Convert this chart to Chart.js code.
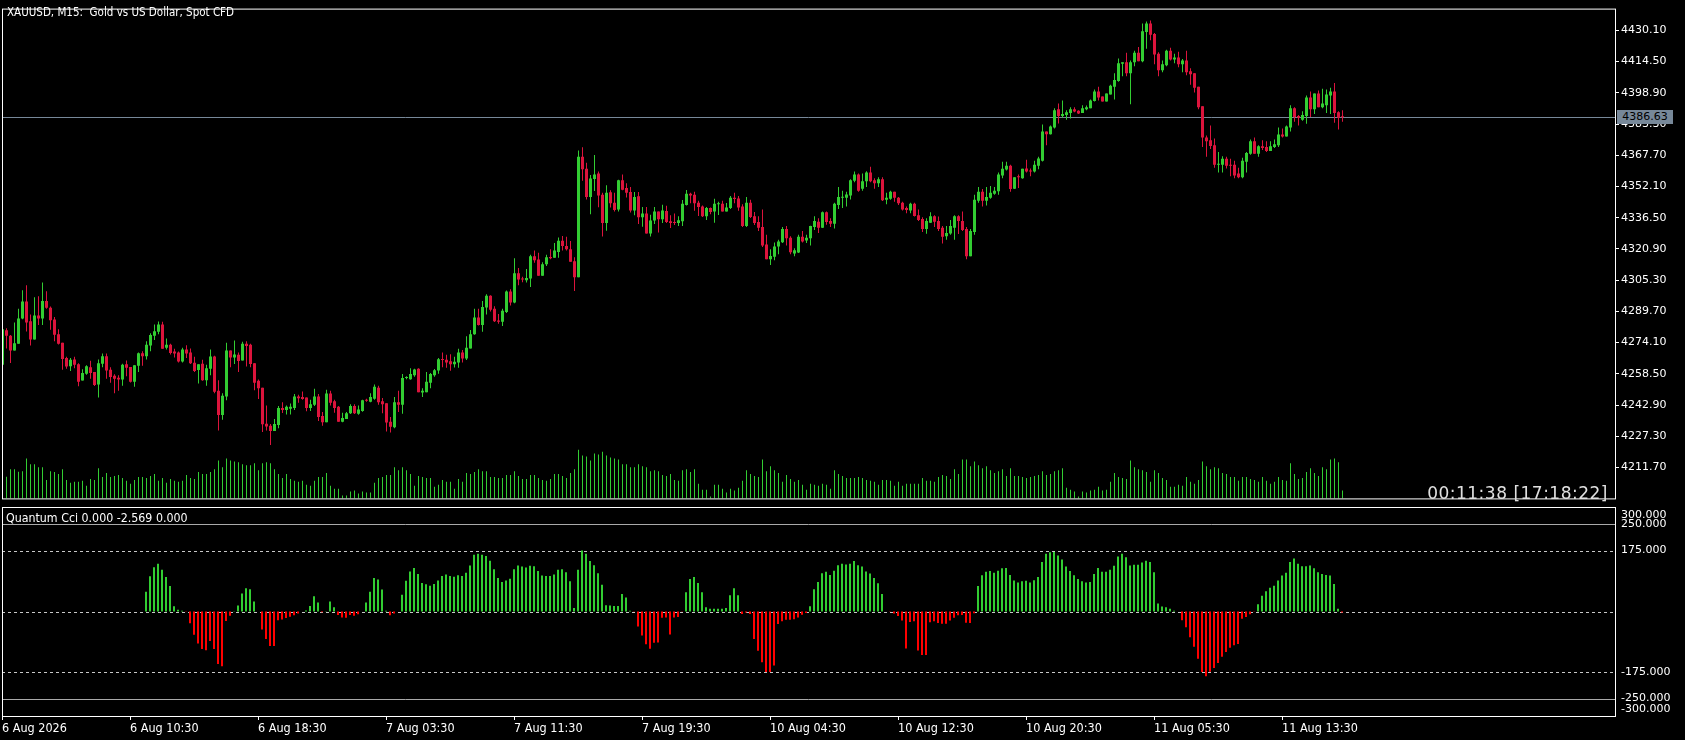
<!DOCTYPE html>
<html>
<head>
<meta charset="utf-8">
<title>XAUUSD M15</title>
<script src="https://cdn.jsdelivr.net/npm/chart.js@4/dist/chart.umd.min.js"></script>
<style>
  html, body { margin: 0; padding: 0; background: #000; overflow: hidden; }
  #wrap { position: relative; width: 1685px; height: 740px; background: #000; }
  #wrap canvas { position: absolute; left: 0; }
  .txt { position: absolute; white-space: pre; color: #fff; font-family: "DejaVu Sans Condensed", "DejaVu Sans", sans-serif; font-size: 11.5px; line-height: 13px; }
  #cciLabel { font-size: 12.3px; }
  #timer { font-family: "DejaVu Sans", sans-serif; font-size: 17px; line-height: 20px; letter-spacing: 0.5px; color: #e0e0e0; }
  #priceBox { font-family: "DejaVu Sans", sans-serif; font-size: 11px; background: #778899; color: #000; text-align: center; width: 56px; height: 14px; line-height: 14px; }
</style>
</head>
<body>
<div id="wrap">
  <canvas id="mainChart" width="1685" height="507" style="top:0;width:1685px;height:507px"></canvas>
  <canvas id="cciChart" width="1685" height="233" style="top:507px;width:1685px;height:233px"></canvas>
  <div class="txt" id="title" style="left:7px;top:6px">XAUUSD, M15:  Gold vs US Dollar, Spot CFD</div>
  <div class="txt" id="timer" style="right:77px;top:483px">00:11:38 [17:18:22]</div>
  <div class="txt" id="cciLabel" style="left:6px;top:512px">Quantum Cci 0.000 -2.569 0.000</div>
  <div class="txt" id="priceBox" style="left:1617px;top:0">4386.63</div>
</div>

<script>
// ---- data (M15 bars, oldest first) ----

var openPrices = [
  4263.0, 4280.3, 4277.5, 4270.2, 4273.5, 4286.1, 4294.6, 4284.8, 4275.6, 4287.6,
  4286.1, 4294.9, 4291.5, 4285.6, 4278.3, 4274.0, 4266.4, 4262.3, 4265.7, 4263.3,
  4255.2, 4258.6, 4261.8, 4259.4, 4253.2, 4263.5, 4267.3, 4260.5, 4257.6, 4256.6,
  4255.7, 4263.3, 4261.9, 4254.5, 4262.5, 4268.8, 4267.3, 4272.7, 4277.5, 4279.5,
  4283.2, 4271.5, 4273.0, 4269.6, 4269.1, 4264.7, 4270.6, 4269.1, 4264.1, 4260.4,
  4263.6, 4255.3, 4261.0, 4267.2, 4250.1, 4238.0, 4247.2, 4270.1, 4266.7, 4268.0,
  4265.2, 4273.5, 4273.0, 4263.8, 4255.0, 4251.6, 4233.6, 4232.6, 4229.9, 4233.0,
  4241.4, 4240.4, 4241.1, 4241.4, 4247.2, 4246.9, 4246.7, 4241.4, 4243.0, 4247.2,
  4237.5, 4234.3, 4248.7, 4244.8, 4242.0, 4234.6, 4236.0, 4238.8, 4242.4, 4238.6,
  4239.9, 4245.3, 4244.6, 4246.1, 4251.6, 4244.8, 4243.8, 4234.6, 4231.8, 4244.3,
  4243.0, 4256.4, 4255.8, 4257.8, 4261.0, 4249.2, 4249.3, 4254.0, 4257.8, 4260.2,
  4265.8, 4265.5, 4264.8, 4263.3, 4264.2, 4269.1, 4266.2, 4271.2, 4278.3, 4286.6,
  4282.9, 4291.6, 4297.5, 4291.0, 4285.2, 4284.5, 4289.4, 4299.6, 4294.2, 4308.8,
  4306.1, 4305.3, 4306.1, 4317.2, 4315.6, 4307.5, 4313.2, 4316.9, 4316.5, 4319.4,
  4325.0, 4322.4, 4320.7, 4314.8, 4306.7, 4366.9, 4361.0, 4346.9, 4355.8, 4358.6,
  4348.0, 4333.9, 4349.2, 4344.0, 4340.6, 4355.2, 4351.3, 4349.3, 4340.1, 4347.2,
  4336.7, 4338.6, 4328.6, 4335.1, 4339.6, 4335.7, 4339.9, 4334.7, 4334.4, 4333.9,
  4334.7, 4342.9, 4348.4, 4347.9, 4344.0, 4342.1, 4337.2, 4341.3, 4339.6, 4343.2,
  4343.5, 4339.6, 4341.3, 4346.5, 4346.1, 4342.1, 4332.3, 4344.0, 4337.2, 4334.3,
  4331.9, 4323.1, 4315.8, 4317.0, 4322.1, 4324.2, 4330.9, 4326.5, 4318.6, 4319.1,
  4327.0, 4325.1, 4326.2, 4331.9, 4334.5, 4331.5, 4339.2, 4334.8, 4333.5, 4342.9,
  4346.5, 4346.5, 4347.6, 4354.9, 4358.1, 4351.0, 4354.7, 4359.1, 4355.2, 4353.7,
  4355.7, 4345.5, 4346.0, 4349.4, 4346.5, 4344.0, 4341.3, 4340.1, 4343.5, 4337.7,
  4335.8, 4330.9, 4334.0, 4337.2, 4334.8, 4331.5, 4327.2, 4328.6, 4331.5, 4337.2,
  4334.8, 4330.9, 4317.3, 4329.4, 4345.0, 4349.4, 4345.0, 4346.5, 4348.4, 4349.7,
  4357.6, 4360.6, 4362.5, 4351.0, 4357.1, 4356.2, 4361.1, 4360.1, 4359.6, 4362.5,
  4365.0, 4379.5, 4378.2, 4381.5, 4390.7, 4387.3, 4387.8, 4388.8, 4390.7, 4389.9,
  4388.8, 4390.7, 4391.2, 4394.8, 4399.5, 4397.1, 4394.6, 4398.0, 4401.9, 4404.8,
  4413.4, 4414.1, 4408.7, 4414.1, 4418.9, 4414.6, 4429.2, 4433.5, 4428.2, 4418.4,
  4410.2, 4412.6, 4419.9, 4415.5, 4416.5, 4413.1, 4415.0, 4409.7, 4408.7, 4401.9,
  4392.2, 4376.6, 4375.2, 4372.7, 4363.0, 4363.0, 4365.9, 4363.0, 4363.0, 4358.6,
  4356.7, 4364.5, 4368.4, 4374.7, 4368.5, 4372.2, 4371.8, 4369.8, 4371.8, 4372.7,
  4378.1, 4377.1, 4381.5, 4391.2, 4387.3, 4385.4, 4387.3, 4396.6, 4390.7, 4398.5,
  4391.7, 4392.7, 4397.5, 4399.5, 4389.2, 4386.8
];

var highPrices = [
  4281.5, 4281.3, 4277.9, 4284.2, 4291.0, 4300.2, 4302.7, 4288.1, 4296.8, 4297.2,
  4304.1, 4299.7, 4292.1, 4286.9, 4280.8, 4274.0, 4267.0, 4266.4, 4267.0, 4263.8,
  4260.8, 4262.8, 4265.1, 4259.4, 4265.7, 4268.6, 4268.6, 4261.8, 4258.3, 4257.8,
  4263.5, 4265.2, 4261.9, 4262.8, 4269.1, 4269.8, 4274.8, 4278.8, 4283.2, 4284.7,
  4284.5, 4276.1, 4273.5, 4271.0, 4269.6, 4271.5, 4272.8, 4271.2, 4267.0, 4263.3,
  4265.5, 4263.0, 4270.6, 4267.5, 4255.3, 4248.8, 4274.0, 4270.1, 4275.1, 4269.1,
  4274.5, 4274.8, 4273.5, 4263.8, 4255.7, 4251.6, 4242.7, 4233.5, 4235.9, 4242.4,
  4244.3, 4242.7, 4243.7, 4248.4, 4248.0, 4249.7, 4246.7, 4245.6, 4251.1, 4248.4,
  4239.4, 4250.6, 4250.1, 4245.6, 4242.4, 4239.1, 4239.5, 4243.3, 4243.3, 4242.7,
  4245.6, 4246.0, 4248.8, 4253.2, 4252.5, 4246.4, 4243.8, 4237.0, 4246.9, 4250.1,
  4258.4, 4257.3, 4261.3, 4261.0, 4261.3, 4251.3, 4259.4, 4258.9, 4260.9, 4266.4,
  4269.1, 4268.0, 4268.3, 4267.0, 4271.0, 4270.4, 4277.3, 4280.4, 4291.0, 4291.0,
  4294.9, 4298.3, 4297.8, 4292.3, 4288.4, 4291.0, 4300.1, 4300.7, 4316.3, 4311.4,
  4307.0, 4310.9, 4318.0, 4320.1, 4319.0, 4314.2, 4318.0, 4320.7, 4323.9, 4326.6,
  4327.3, 4327.0, 4324.9, 4316.7, 4370.1, 4371.7, 4363.9, 4357.8, 4367.8, 4359.6,
  4349.0, 4352.7, 4350.2, 4348.9, 4355.5, 4358.1, 4353.7, 4351.8, 4349.3, 4349.3,
  4341.9, 4341.9, 4338.0, 4341.9, 4339.6, 4343.0, 4342.5, 4337.7, 4338.6, 4337.2,
  4345.3, 4350.3, 4348.9, 4349.4, 4345.0, 4342.6, 4341.9, 4341.6, 4346.0, 4344.5,
  4345.0, 4343.9, 4347.4, 4348.9, 4347.4, 4343.2, 4346.9, 4345.5, 4339.3, 4337.2,
  4340.6, 4328.0, 4320.7, 4324.1, 4325.5, 4331.9, 4332.3, 4327.2, 4321.2, 4328.0,
  4329.9, 4328.0, 4332.5, 4337.2, 4336.2, 4339.6, 4339.6, 4336.2, 4344.0, 4351.8,
  4349.9, 4349.4, 4355.7, 4359.6, 4358.6, 4358.6, 4359.7, 4362.0, 4356.2, 4356.7,
  4356.7, 4348.9, 4350.0, 4349.4, 4346.9, 4344.5, 4342.1, 4344.0, 4344.0, 4340.6,
  4336.7, 4336.2, 4339.2, 4337.7, 4337.1, 4332.3, 4332.3, 4335.3, 4337.7, 4337.7,
  4339.6, 4331.9, 4330.9, 4347.9, 4351.8, 4350.8, 4351.8, 4352.3, 4351.8, 4359.1,
  4364.4, 4364.4, 4363.0, 4356.7, 4358.1, 4361.0, 4365.4, 4361.1, 4365.0, 4366.9,
  4383.0, 4379.5, 4382.5, 4391.2, 4393.6, 4395.1, 4390.2, 4391.7, 4391.7, 4390.2,
  4392.7, 4392.5, 4395.6, 4400.5, 4401.9, 4397.1, 4398.5, 4402.9, 4408.7, 4416.0,
  4414.1, 4418.9, 4415.0, 4419.9, 4421.8, 4433.5, 4434.5, 4435.0, 4428.7, 4419.1,
  4415.0, 4420.4, 4421.4, 4418.4, 4419.4, 4415.8, 4419.9, 4411.1, 4408.7, 4401.9,
  4392.2, 4377.6, 4382.5, 4376.1, 4369.3, 4367.2, 4366.9, 4365.9, 4365.0, 4361.5,
  4366.4, 4369.3, 4375.6, 4376.6, 4372.7, 4375.2, 4374.7, 4374.7, 4375.6, 4381.5,
  4381.0, 4382.5, 4392.7, 4391.7, 4387.8, 4389.7, 4397.5, 4399.5, 4398.5, 4400.0,
  4400.9, 4400.5, 4401.4, 4403.8, 4389.7, 4390.2
];

var lowPrices = [
  4262.0, 4271.2, 4263.9, 4270.2, 4273.5, 4285.8, 4279.6, 4272.7, 4275.6, 4282.9,
  4282.9, 4291.0, 4280.5, 4274.8, 4273.2, 4260.5, 4261.0, 4259.9, 4261.3, 4252.3,
  4255.2, 4258.1, 4256.1, 4252.4, 4246.7, 4261.8, 4256.1, 4254.0, 4248.8, 4250.1,
  4252.6, 4257.3, 4254.2, 4252.1, 4259.4, 4262.6, 4265.7, 4269.8, 4275.4, 4278.3,
  4271.0, 4270.7, 4268.1, 4266.7, 4264.2, 4264.2, 4266.4, 4263.4, 4259.4, 4253.7,
  4255.0, 4252.6, 4257.8, 4248.8, 4230.2, 4235.6, 4245.3, 4261.8, 4263.4, 4259.4,
  4265.2, 4262.2, 4261.8, 4250.3, 4245.9, 4229.4, 4230.2, 4222.9, 4229.9, 4231.3,
  4239.0, 4238.2, 4238.2, 4240.4, 4244.0, 4245.6, 4239.8, 4239.9, 4242.4, 4234.9,
  4232.6, 4234.3, 4242.7, 4239.1, 4234.6, 4234.3, 4236.0, 4238.5, 4238.5, 4238.1,
  4239.6, 4244.6, 4244.3, 4245.6, 4243.0, 4238.8, 4229.7, 4229.2, 4231.3, 4239.5,
  4238.6, 4255.8, 4255.5, 4257.1, 4249.3, 4246.9, 4249.3, 4251.3, 4257.0, 4258.6,
  4261.8, 4261.5, 4260.0, 4261.7, 4261.5, 4264.2, 4265.4, 4271.2, 4278.0, 4282.6,
  4279.5, 4288.2, 4289.7, 4284.4, 4283.5, 4282.4, 4288.9, 4292.6, 4293.8, 4302.7,
  4304.3, 4304.1, 4301.9, 4314.0, 4307.5, 4307.5, 4312.4, 4315.8, 4316.5, 4316.5,
  4320.1, 4320.1, 4314.5, 4299.9, 4306.7, 4355.0, 4345.6, 4338.2, 4349.8, 4341.7,
  4327.1, 4330.0, 4341.6, 4339.6, 4339.6, 4350.2, 4346.6, 4339.1, 4337.7, 4333.4,
  4332.0, 4328.6, 4327.1, 4333.4, 4329.1, 4333.8, 4333.8, 4331.4, 4332.8, 4332.3,
  4332.3, 4342.6, 4343.7, 4340.0, 4337.4, 4336.9, 4335.4, 4338.2, 4334.0, 4337.9,
  4339.6, 4339.6, 4340.8, 4343.7, 4340.0, 4331.9, 4331.9, 4336.4, 4332.8, 4329.9,
  4321.8, 4315.8, 4312.9, 4315.3, 4318.2, 4323.8, 4322.6, 4318.2, 4317.3, 4318.9,
  4324.1, 4323.8, 4322.6, 4330.4, 4328.9, 4331.4, 4333.0, 4331.9, 4331.1, 4340.8,
  4341.3, 4342.1, 4345.6, 4354.2, 4349.4, 4350.0, 4351.8, 4354.2, 4351.0, 4351.8,
  4344.8, 4343.2, 4345.5, 4344.5, 4342.9, 4340.1, 4338.7, 4338.7, 4337.1, 4334.8,
  4329.4, 4328.5, 4333.8, 4331.9, 4329.9, 4323.6, 4325.5, 4328.0, 4325.5, 4328.3,
  4329.9, 4315.8, 4317.3, 4328.0, 4344.0, 4342.1, 4342.6, 4346.0, 4347.9, 4347.9,
  4356.2, 4360.1, 4349.4, 4350.8, 4351.3, 4355.9, 4359.1, 4357.2, 4359.1, 4360.7,
  4364.6, 4372.7, 4378.1, 4381.0, 4383.6, 4386.6, 4385.4, 4386.0, 4389.2, 4388.3,
  4388.8, 4390.2, 4391.2, 4394.6, 4395.1, 4394.5, 4394.6, 4398.0, 4395.6, 4404.4,
  4407.1, 4407.1, 4393.2, 4412.1, 4414.6, 4414.1, 4420.9, 4425.2, 4413.1, 4407.2,
  4409.2, 4412.1, 4415.0, 4413.6, 4411.6, 4409.2, 4407.7, 4402.9, 4399.0, 4390.7,
  4371.8, 4366.9, 4370.8, 4361.5, 4359.1, 4359.1, 4361.1, 4357.2, 4356.2, 4356.2,
  4356.2, 4359.1, 4367.9, 4368.4, 4366.9, 4370.3, 4369.3, 4369.8, 4371.3, 4371.8,
  4376.6, 4377.1, 4379.5, 4384.4, 4382.5, 4384.9, 4383.4, 4386.8, 4388.3, 4391.7,
  4391.2, 4388.8, 4388.3, 4383.9, 4380.5, 4384.4
];

var closePrices = [
  4280.8, 4277.5, 4270.2, 4273.8, 4286.1, 4294.6, 4284.2, 4275.6, 4287.6, 4286.1,
  4294.9, 4291.5, 4285.3, 4278.0, 4273.5, 4265.9, 4262.2, 4265.5, 4263.0, 4254.5,
  4258.9, 4262.3, 4258.9, 4252.9, 4263.8, 4267.3, 4260.2, 4256.9, 4256.1, 4255.7,
  4263.0, 4261.5, 4254.5, 4262.8, 4268.8, 4267.3, 4273.0, 4277.9, 4279.8, 4283.2,
  4271.0, 4273.0, 4268.9, 4268.6, 4264.7, 4270.6, 4268.6, 4263.8, 4259.9, 4263.3,
  4255.3, 4261.3, 4267.2, 4249.6, 4238.0, 4247.6, 4270.1, 4266.7, 4268.1, 4264.9,
  4273.5, 4272.4, 4263.4, 4254.0, 4251.3, 4233.3, 4232.2, 4229.9, 4233.5, 4241.4,
  4240.4, 4242.0, 4242.0, 4247.2, 4246.3, 4245.9, 4241.4, 4243.3, 4247.2, 4237.0,
  4234.3, 4248.7, 4244.0, 4241.4, 4234.6, 4236.5, 4238.8, 4242.4, 4238.8, 4240.7,
  4245.3, 4245.1, 4246.9, 4252.1, 4244.3, 4243.3, 4234.2, 4232.1, 4244.3, 4243.0,
  4256.4, 4256.6, 4258.4, 4260.7, 4249.3, 4250.1, 4254.5, 4258.4, 4260.3, 4265.8,
  4265.4, 4264.2, 4263.3, 4264.6, 4269.1, 4266.2, 4271.5, 4278.3, 4286.6, 4282.9,
  4291.9, 4297.5, 4290.5, 4284.8, 4284.5, 4290.0, 4299.6, 4294.2, 4308.8, 4305.6,
  4305.6, 4306.4, 4317.2, 4315.3, 4307.5, 4313.3, 4316.8, 4316.3, 4320.1, 4325.0,
  4322.3, 4320.7, 4314.5, 4306.7, 4366.9, 4360.7, 4346.9, 4356.1, 4358.1, 4347.6,
  4333.9, 4348.9, 4343.7, 4340.4, 4355.2, 4350.5, 4349.0, 4340.1, 4346.9, 4336.7,
  4338.6, 4328.6, 4335.1, 4339.6, 4335.7, 4340.1, 4334.4, 4333.9, 4333.8, 4335.2,
  4343.5, 4348.4, 4347.6, 4343.7, 4341.8, 4337.2, 4341.3, 4339.3, 4343.5, 4343.7,
  4339.6, 4341.6, 4346.5, 4345.8, 4341.6, 4332.3, 4344.0, 4336.9, 4333.8, 4331.5,
  4322.6, 4315.8, 4317.4, 4322.1, 4324.6, 4330.9, 4326.2, 4319.2, 4320.2, 4327.0,
  4324.6, 4326.5, 4332.3, 4334.8, 4331.5, 4339.2, 4334.3, 4333.5, 4343.5, 4346.9,
  4346.9, 4348.1, 4355.2, 4358.1, 4350.0, 4354.7, 4359.1, 4354.7, 4353.7, 4355.7,
  4345.2, 4346.5, 4349.4, 4346.5, 4343.7, 4340.6, 4340.3, 4343.5, 4337.4, 4335.3,
  4330.9, 4334.8, 4337.2, 4334.5, 4330.9, 4327.0, 4328.9, 4332.3, 4337.2, 4334.8,
  4330.4, 4317.3, 4329.9, 4345.5, 4349.4, 4345.0, 4346.9, 4348.9, 4349.9, 4358.1,
  4361.0, 4362.5, 4350.8, 4356.7, 4356.7, 4361.0, 4359.6, 4359.6, 4363.0, 4366.1,
  4379.5, 4378.2, 4382.0, 4390.2, 4387.3, 4388.3, 4389.2, 4390.7, 4389.6, 4388.6,
  4391.2, 4391.7, 4395.1, 4399.5, 4396.6, 4394.6, 4398.5, 4402.4, 4405.3, 4413.6,
  4414.1, 4408.7, 4414.1, 4418.9, 4414.6, 4429.6, 4433.5, 4427.9, 4418.0, 4410.2,
  4413.1, 4419.9, 4415.5, 4416.5, 4413.1, 4415.0, 4409.2, 4408.2, 4401.4, 4391.7,
  4376.6, 4374.7, 4372.3, 4363.0, 4363.5, 4365.9, 4362.5, 4362.5, 4357.6, 4356.7,
  4365.0, 4368.8, 4374.7, 4368.5, 4372.2, 4371.3, 4369.8, 4372.2, 4373.2, 4378.1,
  4377.1, 4382.0, 4391.2, 4386.8, 4386.4, 4387.8, 4396.6, 4390.7, 4398.5, 4391.7,
  4393.6, 4398.0, 4399.5, 4388.8, 4386.4, 4386.63
];

// tick volumes
var tickVolumes = [
  800, 670, 900, 900, 820, 840, 1230, 1050, 1050, 960,
  960, 570, 840, 810, 750, 900, 570, 480, 510, 510,
  540, 390, 600, 570, 930, 660, 780, 660, 690, 720,
  630, 540, 450, 570, 660, 660, 630, 690, 750, 540,
  630, 480, 600, 540, 510, 540, 720, 630, 600, 810,
  750, 750, 810, 900, 1170, 960, 1230, 1170, 1140, 1110,
  1050, 1020, 1020, 1080, 870, 1080, 1110, 1080, 900, 750,
  630, 750, 600, 540, 510, 540, 420, 390, 540, 660,
  660, 780, 390, 300, 300, 90, 90, 210, 240, 150,
  210, 180, 180, 480, 630, 660, 720, 720, 960, 870,
  960, 870, 750, 390, 690, 660, 630, 630, 360, 420,
  570, 510, 510, 300, 600, 510, 780, 750, 810, 900,
  840, 840, 660, 660, 630, 630, 720, 720, 840, 690,
  600, 600, 720, 720, 630, 570, 540, 600, 750, 750,
  690, 630, 780, 900, 1500, 1320, 1290, 1170, 1380, 1350,
  1440, 1320, 1260, 1230, 1200, 1050, 1050, 960, 960, 1050,
  990, 960, 840, 870, 840, 720, 690, 750, 570, 540,
  870, 900, 810, 900, 450, 270, 270, 60, 420, 420,
  300, 180, 300, 240, 330, 540, 870, 750, 690, 660,
  1200, 840, 990, 870, 780, 510, 720, 600, 510, 570,
  420, 270, 450, 420, 390, 450, 420, 300, 870, 750,
  690, 630, 630, 630, 660, 630, 570, 540, 510, 420,
  570, 570, 540, 390, 510, 390, 450, 450, 450, 450,
  630, 540, 540, 510, 660, 720, 690, 600, 900, 750,
  1200, 1200, 990, 1140, 1020, 930, 990, 870, 780, 840,
  900, 690, 930, 690, 690, 660, 630, 660, 690, 720,
  840, 720, 750, 840, 870, 930, 330, 270, 210, 60,
  210, 180, 240, 270, 360, 240, 270, 510, 780, 660,
  630, 600, 1170, 960, 900, 870, 810, 510, 870, 780,
  630, 570, 360, 360, 420, 390, 660, 510, 450, 570,
  1140, 990, 900, 960, 930, 780, 750, 660, 660, 540,
  660, 660, 600, 570, 510, 660, 540, 450, 510, 660,
  570, 540, 1080, 750, 600, 630, 810, 930, 780, 690,
  960, 900, 1200, 1230, 1110, 240
];

// Quantum CCI histogram (no value for the first bars)
var cciValues = [
  null, null, null, null, null, null, null, null, null, null,
  null, null, null, null, null, null, null, null, null, null,
  null, null, null, null, null, null, null, null, null, null,
  null, null, null, null, null, null, 57, 101, 127, 137,
  120, 99, 73, 15, 5, 2, -1, -34, -67, -92,
  -108, -111, -85, -108, -151, -157, -27, -12, 1, 17,
  52, 67, 64, 29, 0, -52, -79, -99, -99, -25,
  -23, -19, -15, -11, -6, 0, 3, 16, 44, 26,
  -2, 1, 29, 12, -10, -17, -18, -10, -12, -8,
  0, 26, 57, 96, 92, 63, 2, -11, -6, 0,
  48, 88, 115, 125, 108, 82, 78, 74, 79, 89,
  102, 106, 102, 100, 104, 102, 111, 132, 163, 166,
  163, 159, 146, 121, 96, 85, 89, 94, 121, 132,
  129, 126, 131, 130, 116, 103, 102, 102, 106, 120,
  121, 113, 87, 10, 120, 175, 166, 145, 133, 110,
  77, 18, 17, 16, 16, 50, 40, 2, -1, -43,
  -69, -94, -107, -90, -89, -18, -17, -66, -17, -16,
  -1, 55, 93, 99, 82, 55, 12, 8, 8, 8,
  8, 10, 47, 67, 47, -7, -3, -7, -79, -113,
  -146, -174, -174, -155, -36, -28, -24, -24, -22, -17,
  -9, -4, 15, 64, 85, 110, 114, 105, 117, 133,
  137, 135, 137, 145, 133, 129, 115, 109, 96, 81,
  50, 0, -1, -6, -13, -26, -106, -30, -28, -112,
  -125, -125, -31, -28, -33, -35, -35, -26, -18, -11,
  -10, -32, -33, -5, 73, 104, 114, 116, 111, 117,
  124, 125, 105, 89, 83, 87, 88, 83, 90, 99,
  142, 166, 170, 171, 161, 149, 129, 116, 104, 93,
  87, 83, 85, 108, 125, 114, 114, 120, 131, 158,
  166, 156, 132, 134, 134, 141, 146, 142, 113, 23,
  14, 12, 8, 2, 0, -25, -45, -74, -101, -136,
  -174, -186, -173, -162, -148, -130, -116, -104, -97, -93,
  -21, -16, -8, -1, 21, 45, 58, 68, 74, 89,
  103, 111, 142, 152, 137, 130, 130, 132, 124, 113,
  108, 105, 103, 79, 8, -2.569
];

// axis ticks
var priceTicks = [4211.70, 4227.30, 4242.90, 4258.50, 4274.10, 4289.70, 4305.30, 4320.90,
                  4336.50, 4352.10, 4367.70, 4383.30, 4398.90, 4414.50, 4430.10];
var timeTickBars = [0, 32, 64, 96, 128, 160, 192, 224, 256, 288, 320];
var timeTickLabels = ['6 Aug 2026', '6 Aug 10:30', '6 Aug 18:30', '7 Aug 03:30', '7 Aug 11:30',
                      '7 Aug 19:30', '10 Aug 04:30', '10 Aug 12:30', '10 Aug 20:30',
                      '11 Aug 05:30', '11 Aug 13:30'];
var cciTicks = [300, 250, 175, -175, -250, -300];
var cciDashedLevels = [175, 0, -175];
var cciSolidLevels = [250, -250];
var currentPrice = 4386.63;

// ---- look ----
var BULL = '#32cd32';
var BEAR = '#dc143c';
var VOL_GREEN = '#32cd32';
var CCI_GREEN = '#32cd32';
var CCI_RED = '#ff0000';
var FRAME = '#ffffff';
var PRICE_LINE = '#778899';

Chart.defaults.font.family = '"DejaVu Sans", sans-serif';
Chart.defaults.font.size = 11;
Chart.defaults.color = '#ffffff';

// 4 px per bar over a 1613 px wide pane
var xMin = -0.125;
var xMax = xMin + 1613 / 4;

var candleColors = closePrices.map(function(c, i) {
  return c >= openPrices[i] ? BULL : BEAR;
});

// draws the current price line and the pane frame
var mainPanePlugin = {
  id: 'mainPane',
  beforeDatasetsDraw: function(chart) {
    var ctx = chart.ctx, a = chart.chartArea;
    var py = Math.round(chart.scales.y.getPixelForValue(currentPrice)) + 0.5;
    ctx.save();
    ctx.strokeStyle = PRICE_LINE;
    ctx.lineWidth = 1;
    ctx.beginPath();
    ctx.moveTo(a.left, py);
    ctx.lineTo(a.right, py);
    ctx.stroke();
    ctx.restore();
  },
  afterDraw: function(chart) {
    var ctx = chart.ctx, a = chart.chartArea;
    ctx.save();
    ctx.strokeStyle = FRAME;
    ctx.lineWidth = 1;
    ctx.strokeRect(a.left + 0.5, a.top + 0.5, a.right - a.left, a.bottom - a.top);
    ctx.restore();
  }
};

var mainChart = new Chart(document.getElementById('mainChart'), {
  type: 'bar',
  data: {
    datasets: [
      {
        label: 'Wicks',
        data: closePrices.map(function(c, i) { return { x: i, y: [lowPrices[i], highPrices[i]] }; }),
        backgroundColor: candleColors,
        barThickness: 1,
        minBarLength: 1,
        yAxisID: 'y',
        order: 2
      },
      {
        label: 'Bodies',
        data: closePrices.map(function(c, i) { return { x: i, y: [openPrices[i], c] }; }),
        backgroundColor: candleColors,
        barThickness: 3,
        minBarLength: 1,
        yAxisID: 'y',
        order: 1
      },
      {
        label: 'Volumes',
        data: tickVolumes.map(function(v, i) { return { x: i, y: v }; }),
        backgroundColor: VOL_GREEN,
        barThickness: 1,
        yAxisID: 'yv',
        order: 3
      }
    ]
  },
  options: {
    responsive: false,
    animation: false,
    events: [],
    layout: { padding: { left: 2, top: 2, right: 0, bottom: 2 } },
    datasets: { bar: { grouped: false, borderWidth: 0, inflateAmount: 0 } },
    plugins: { legend: { display: false }, tooltip: { enabled: false } },
    scales: {
      x: { type: 'linear', display: false, offset: false, min: xMin, max: xMax },
      y: {
        position: 'right',
        min: 4196.28,
        max: 4440.95,
        afterBuildTicks: function(scale) {
          scale.ticks = priceTicks.map(function(v) { return { value: v }; });
        },
        afterFit: function(scale) { scale.width = 70; },
        grid: { drawOnChartArea: false, color: FRAME, tickLength: 4 },
        border: { display: false },
        ticks: {
          color: '#ffffff',
          padding: 2,
          callback: function(v) { return Number(v).toFixed(2); }
        }
      },
      yv: { display: false, min: 0, max: 15090 }
    }
  },
  plugins: [mainPanePlugin]
});

// price tag on the right axis
var tagY = mainChart.scales.y.getPixelForValue(currentPrice);
document.getElementById('priceBox').style.top = Math.round(tagY - 7) + 'px';

// levels, frame and clamped axis labels of the indicator window
var cciPanePlugin = {
  id: 'cciPane',
  beforeDatasetsDraw: function(chart) {
    var ctx = chart.ctx, a = chart.chartArea, y = chart.scales.y;
    ctx.save();
    ctx.lineWidth = 1;
    ctx.strokeStyle = '#a9a9a9';
    cciSolidLevels.forEach(function(v) {
      var py = Math.round(y.getPixelForValue(v)) + 0.5;
      ctx.beginPath(); ctx.moveTo(a.left, py); ctx.lineTo(a.right, py); ctx.stroke();
    });
    ctx.strokeStyle = '#c8c8c8';
    ctx.setLineDash([3, 3]);
    cciDashedLevels.forEach(function(v) {
      var py = Math.round(y.getPixelForValue(v)) + 0.5;
      ctx.beginPath(); ctx.moveTo(a.left, py); ctx.lineTo(a.right, py); ctx.stroke();
    });
    ctx.restore();
  },
  afterDraw: function(chart) {
    var ctx = chart.ctx, a = chart.chartArea, y = chart.scales.y;
    ctx.save();
    ctx.strokeStyle = FRAME;
    ctx.lineWidth = 1;
    ctx.strokeRect(a.left + 0.5, a.top + 0.5, a.right - a.left, a.bottom - a.top);
    ctx.fillStyle = '#ffffff';
    ctx.font = '11px "DejaVu Sans", sans-serif';
    ctx.textBaseline = 'middle';
    ctx.textAlign = 'left';
    cciTicks.forEach(function(v) {
      var py = y.getPixelForValue(v);
      py = Math.max(a.top + 8, Math.min(a.bottom - 7, py));
      ctx.fillText(v.toFixed(3), a.right + 6, py);
    });
    ctx.restore();
  }
};

var cciChart = new Chart(document.getElementById('cciChart'), {
  type: 'bar',
  data: {
    datasets: [{
      label: 'Quantum Cci',
      data: cciValues.map(function(v, i) { return { x: i, y: v }; }),
      backgroundColor: cciValues.map(function(v) { return v >= 0 ? CCI_GREEN : CCI_RED; }),
      barThickness: 2
    }]
  },
  options: {
    responsive: false,
    animation: false,
    events: [],
    layout: { padding: { left: 2, top: 0, right: 0, bottom: 0 } },
    datasets: { bar: { grouped: false, borderWidth: 0, inflateAmount: 0 } },
    plugins: { legend: { display: false }, tooltip: { enabled: false } },
    scales: {
      x: {
        type: 'linear',
        offset: false,
        min: xMin + 0.125,
        max: xMax + 0.125,
        afterBuildTicks: function(scale) {
          scale.ticks = timeTickBars.map(function(v) { return { value: v }; });
        },
        afterFit: function(scale) { scale.height = 24; },
        grid: { offset: false, drawOnChartArea: false, color: FRAME, tickLength: 4 },
        border: { display: false },
        ticks: {
          align: 'start',
          padding: 1,
          maxRotation: 0,
          autoSkip: false,
          color: '#ffffff',
          font: { family: '"DejaVu Sans Condensed", "DejaVu Sans", sans-serif', size: 12.5 },
          callback: function(v, idx) { return timeTickLabels[idx]; }
        }
      },
      y: {
        position: 'right',
        min: -300,
        max: 300,
        afterFit: function(scale) { scale.width = 70; },
        grid: { display: false },
        border: { display: false },
        ticks: { display: false }
      }
    }
  },
  plugins: [cciPanePlugin]
});
</script>
</body>
</html>
